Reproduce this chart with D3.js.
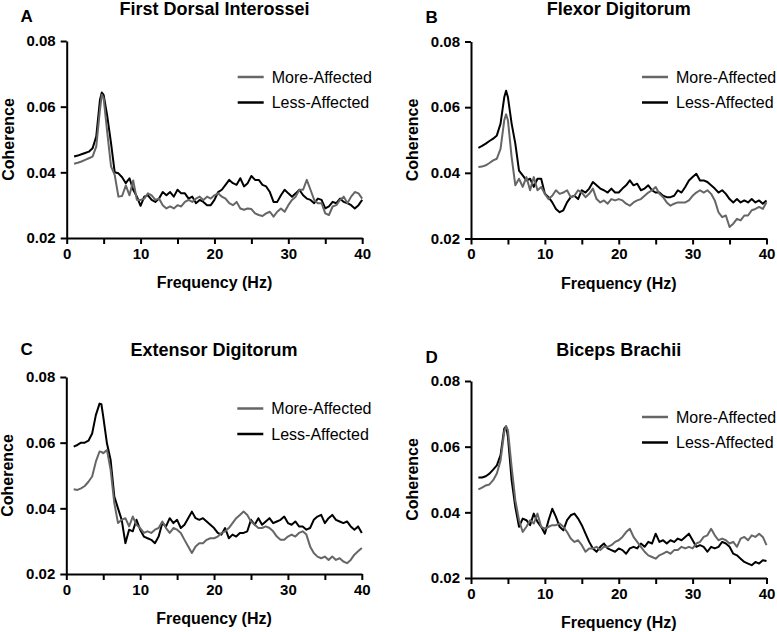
<!DOCTYPE html>
<html>
<head>
<meta charset="utf-8">
<script src="https://cdn.jsdelivr.net/npm/d3@7"></script>
<style>
  body { margin: 0; background: #fff; }
  svg { display: block; font-family: "Liberation Sans", Arial, sans-serif; }
</style>
</head>
<body>
<script>
// frequency bins (Hz)
const freqs = [1,1.5,2,2.5,3,3.5,4,4.5,4.75,5,5.5,6,6.5,7,7.5,8,8.5,9,9.5,10,
  10.5,11,11.5,12,12.5,13,13.5,14,14.5,15,15.5,16,16.5,17,17.5,18,18.5,19,19.5,20,
  20.5,21,21.5,22,22.5,23,23.5,24,24.5,25,25.5,26,26.5,27,27.5,28,28.5,29,29.5,30,
  30.5,31,31.5,32,32.5,33,33.5,34,34.5,35,35.5,36,36.5,37,37.5,38,38.5,39,39.5,40];

// First Dorsal Interossei
const fdiLess = [0.0448,0.0451,0.0455,0.0459,0.0463,0.0473,0.0509,0.062,0.0643,0.0636,0.057,0.0489,0.040,0.0397,0.0385,0.0367,0.0382,0.0347,0.0326,0.0298,
  0.0326,0.033,0.0316,0.031,0.032,0.034,0.033,0.034,0.0326,0.0347,0.0336,0.0336,0.032,0.0326,0.0306,0.0316,0.031,0.030,0.030,0.0316,
  0.034,0.0347,0.0362,0.0377,0.0367,0.0362,0.0382,0.0357,0.0367,0.0389,0.0377,0.0377,0.0362,0.0357,0.034,0.031,0.031,0.033,0.0347,0.0336,
  0.0326,0.0336,0.0347,0.033,0.032,0.0316,0.0306,0.032,0.0316,0.029,0.0296,0.031,0.0306,0.032,0.031,0.0306,0.030,0.029,0.030,0.0316];
const fdiMore = [0.0426,0.0429,0.0433,0.0438,0.0443,0.0448,0.0478,0.059,0.0636,0.0626,0.0519,0.0418,0.0392,0.0326,0.0328,0.036,0.033,0.0375,0.0316,0.0316,
  0.032,0.0336,0.033,0.0316,0.032,0.030,0.029,0.0296,0.029,0.030,0.0296,0.031,0.0316,0.031,0.032,0.0326,0.0316,0.0326,0.032,0.033,
  0.0336,0.0326,0.032,0.0306,0.030,0.031,0.029,0.0286,0.029,0.0288,0.0275,0.027,0.0267,0.0275,0.028,0.0265,0.028,0.029,0.028,0.030,
  0.0316,0.0326,0.0347,0.0347,0.0377,0.0347,0.0316,0.0306,0.0306,0.0275,0.027,0.0296,0.030,0.0316,0.0326,0.0306,0.0326,0.034,0.0336,0.032];

// Flexor Digitorum
const fdLess = [0.0476,0.0482,0.0489,0.0497,0.0504,0.0514,0.055,0.063,0.065,0.063,0.055,0.0489,0.0407,0.0392,0.0377,0.0382,0.0357,0.0382,0.0382,0.0336,
  0.0326,0.031,0.029,0.028,0.0286,0.031,0.0326,0.033,0.032,0.0347,0.034,0.0352,0.0372,0.0362,0.0352,0.0347,0.034,0.0352,0.034,0.034,
  0.0352,0.0362,0.0377,0.0362,0.0367,0.0347,0.0352,0.0362,0.0347,0.034,0.034,0.033,0.0326,0.0326,0.033,0.0347,0.034,0.0357,0.0377,0.0387,
  0.0397,0.0377,0.0377,0.0372,0.0362,0.0352,0.034,0.0347,0.0336,0.032,0.031,0.032,0.031,0.0316,0.031,0.032,0.031,0.0316,0.0306,0.0316];
const fdMore = [0.0418,0.0419,0.0423,0.0430,0.0438,0.0443,0.0473,0.056,0.0578,0.056,0.0448,0.0362,0.0382,0.0357,0.0387,0.0347,0.0387,0.0347,0.0357,0.0336,
  0.032,0.033,0.0347,0.0336,0.034,0.0347,0.0326,0.033,0.0347,0.034,0.0326,0.0336,0.0352,0.032,0.031,0.0316,0.0306,0.032,0.0316,0.032,
  0.0316,0.0306,0.030,0.031,0.0316,0.032,0.033,0.034,0.0347,0.0357,0.0336,0.0326,0.031,0.030,0.0306,0.031,0.031,0.031,0.0316,0.033,
  0.034,0.0347,0.034,0.0347,0.0336,0.0316,0.028,0.0265,0.027,0.0235,0.0245,0.026,0.0255,0.027,0.027,0.0286,0.029,0.0296,0.029,0.031];

// Extensor Digitorum
const edLess = [0.0588,0.0593,0.060,0.060,0.0606,0.0628,0.0684,0.0719,0.0717,0.0679,0.0598,0.0547,0.0436,0.040,0.0365,0.0294,0.0335,0.033,0.0365,0.0335,
  0.0314,0.0309,0.0304,0.0294,0.0314,0.0355,0.0345,0.037,0.0355,0.0365,0.034,0.035,0.037,0.039,0.037,0.0365,0.037,0.036,0.035,0.034,
  0.0325,0.032,0.034,0.0309,0.032,0.0314,0.0325,0.0325,0.033,0.0365,0.035,0.037,0.035,0.036,0.037,0.0355,0.036,0.0365,0.0375,0.0355,
  0.035,0.036,0.0345,0.0345,0.0335,0.034,0.0365,0.0375,0.038,0.0355,0.037,0.038,0.0365,0.036,0.0355,0.036,0.0345,0.0335,0.0345,0.0325];
const edMore = [0.0458,0.0456,0.0461,0.0468,0.0481,0.0497,0.0542,0.0573,0.0572,0.0568,0.0578,0.0517,0.0416,0.0355,0.0365,0.037,0.0345,0.0375,0.035,0.034,
  0.0325,0.033,0.0325,0.0335,0.034,0.036,0.034,0.0325,0.034,0.0335,0.0325,0.0304,0.0284,0.0264,0.0284,0.0294,0.0294,0.0304,0.0309,0.0309,
  0.0314,0.0325,0.033,0.034,0.0355,0.037,0.038,0.039,0.038,0.036,0.035,0.034,0.034,0.0345,0.034,0.033,0.0314,0.0304,0.0304,0.0314,
  0.032,0.0314,0.0325,0.033,0.032,0.0284,0.0264,0.0253,0.0248,0.0253,0.0243,0.0253,0.0243,0.0248,0.0238,0.0233,0.0243,0.0259,0.0269,0.0279];

// Biceps Brachii
const bbLess = [0.0506,0.0506,0.051,0.0518,0.053,0.0543,0.0574,0.0655,0.0662,0.063,0.0498,0.0416,0.0356,0.0381,0.0376,0.0361,0.0396,0.0371,0.0356,0.0335,
  0.0376,0.0411,0.0386,0.0356,0.0345,0.0376,0.0391,0.0396,0.0381,0.0361,0.0335,0.031,0.029,0.028,0.0295,0.0305,0.029,0.0285,0.028,0.029,
  0.0285,0.0274,0.029,0.0295,0.029,0.0305,0.0295,0.031,0.0305,0.0335,0.031,0.0315,0.0305,0.0315,0.031,0.032,0.0315,0.0325,0.0335,0.0315,
  0.0295,0.030,0.0295,0.028,0.0295,0.029,0.0295,0.031,0.0305,0.0295,0.0274,0.0269,0.0259,0.0249,0.0244,0.0239,0.0249,0.0244,0.0254,0.0252];
const bbMore = [0.047,0.0475,0.0482,0.0485,0.0498,0.0518,0.0558,0.0645,0.0662,0.065,0.0538,0.0437,0.0376,0.034,0.0356,0.0376,0.0366,0.0396,0.0356,0.035,
  0.0356,0.0361,0.0361,0.0366,0.0356,0.034,0.032,0.031,0.0315,0.030,0.028,0.029,0.029,0.0295,0.0285,0.0295,0.0295,0.030,0.031,0.0315,
  0.0325,0.034,0.035,0.0325,0.031,0.0295,0.028,0.0269,0.0264,0.0259,0.0269,0.0274,0.028,0.0274,0.0285,0.0285,0.0295,0.029,0.0295,0.029,
  0.0305,0.031,0.0325,0.033,0.035,0.033,0.0315,0.032,0.0315,0.0305,0.031,0.0295,0.032,0.0325,0.0315,0.033,0.0325,0.0335,0.0325,0.030];

const xTicks = [0, 5, 10, 15, 20, 25, 30, 35, 40];
const yTicks = [0.02, 0.04, 0.06, 0.08];
const seriesNames = ['More-Affected', 'Less-Affected'];
const seriesColors = ['#666666', '#000000'];

const W = 777, H = 632;
const plotW = 295.5, plotH = 197;

const panels = [
  { letter: 'A', title: 'First Dorsal Interossei', more: fdiMore, less: fdiLess,
    left: 66.7, top: 41, titleY: 15, letterX: 20.5, letterY: 21.7, legendY: 36 },
  { letter: 'B', title: 'Flexor Digitorum', more: fdMore, less: fdLess,
    left: 471, top: 41.5, titleY: 15, letterX: 425.5, letterY: 23.3, legendY: 35.5 },
  { letter: 'C', title: 'Extensor Digitorum', more: edMore, less: edLess,
    left: 66.3, top: 377, titleY: 356, letterX: 20.5, letterY: 355, legendY: 31.5 },
  { letter: 'D', title: 'Biceps Brachii', more: bbMore, less: bbLess,
    left: 471, top: 381, titleY: 356, letterX: 425.5, letterY: 362.7, legendY: 36 }
];

const svg = d3.select('body').append('svg')
  .attr('width', W)
  .attr('height', H);

panels.forEach(p => {
  const g = svg.append('g');

  const x = d3.scaleLinear().domain([0, 40]).range([p.left, p.left + plotW]);
  const y = d3.scaleLinear().domain([0.02, 0.08]).range([p.top + plotH, p.top]);

  // panel letter + title
  g.append('text')
    .attr('x', p.letterX)
    .attr('y', p.letterY)
    .style('font-size', '17px')
    .style('font-weight', 'bold')
    .text(p.letter);

  g.append('text')
    .attr('x', p.left + plotW / 2)
    .attr('y', p.titleY)
    .attr('text-anchor', 'middle')
    .style('font-size', '18px')
    .style('font-weight', 'bold')
    .text(p.title);

  // axes
  const xAxis = g.append('g')
    .attr('transform', `translate(0,${p.top + plotH})`)
    .call(d3.axisBottom(x)
      .tickValues(xTicks)
      .tickFormat(d => d % 10 === 0 ? d : '')
      .tickSize(6)
      .tickSizeOuter(0)
      .tickPadding(4));

  const yAxis = g.append('g')
    .attr('transform', `translate(${p.left},0)`)
    .call(d3.axisLeft(y)
      .tickValues(yTicks)
      .tickFormat(d3.format('.2f'))
      .tickSize(6)
      .tickSizeOuter(0)
      .tickPadding(5));

  [xAxis, yAxis].forEach(a => {
    a.select('.domain').attr('stroke', '#000').attr('stroke-width', 2);
    a.selectAll('.tick line').attr('stroke', '#000').attr('stroke-width', 2);
    a.selectAll('.tick text')
      .attr('fill', '#000')
      .style('font-family', '"Liberation Sans", Arial, sans-serif')
      .style('font-size', '15px')
      .style('font-weight', 'bold');
  });

  // axis titles
  g.append('text')
    .attr('x', p.left + plotW / 2)
    .attr('y', p.top + plotH + 50)
    .attr('text-anchor', 'middle')
    .style('font-size', '16px')
    .style('font-weight', 'bold')
    .text('Frequency (Hz)');

  g.append('text')
    .attr('transform', `translate(${p.left - 53},${p.top + plotH / 2}) rotate(-90)`)
    .attr('text-anchor', 'middle')
    .style('font-size', '16px')
    .style('font-weight', 'bold')
    .text('Coherence');

  // lines: less-affected under, more-affected on top
  const line = d3.line()
    .x((d, i) => x(freqs[i]))
    .y(d => y(d));

  [[p.less, seriesColors[1]], [p.more, seriesColors[0]]].forEach(([vals, col]) => {
    g.append('path')
      .datum(vals)
      .attr('fill', 'none')
      .attr('stroke', col)
      .attr('stroke-width', 2)
      .attr('stroke-linejoin', 'round')
      .attr('d', line);
  });

  // legend
  seriesNames.forEach((name, i) => {
    const ly = p.top + p.legendY + i * 25.5;
    g.append('line')
      .attr('x1', p.left + 171).attr('x2', p.left + 197)
      .attr('y1', ly).attr('y2', ly)
      .attr('stroke', seriesColors[i])
      .attr('stroke-width', 2.5);
    g.append('text')
      .attr('x', p.left + 205)
      .attr('y', ly + 5.5)
      .style('font-size', '16px')
      .text(name);
  });
});
</script>
</body>
</html>
